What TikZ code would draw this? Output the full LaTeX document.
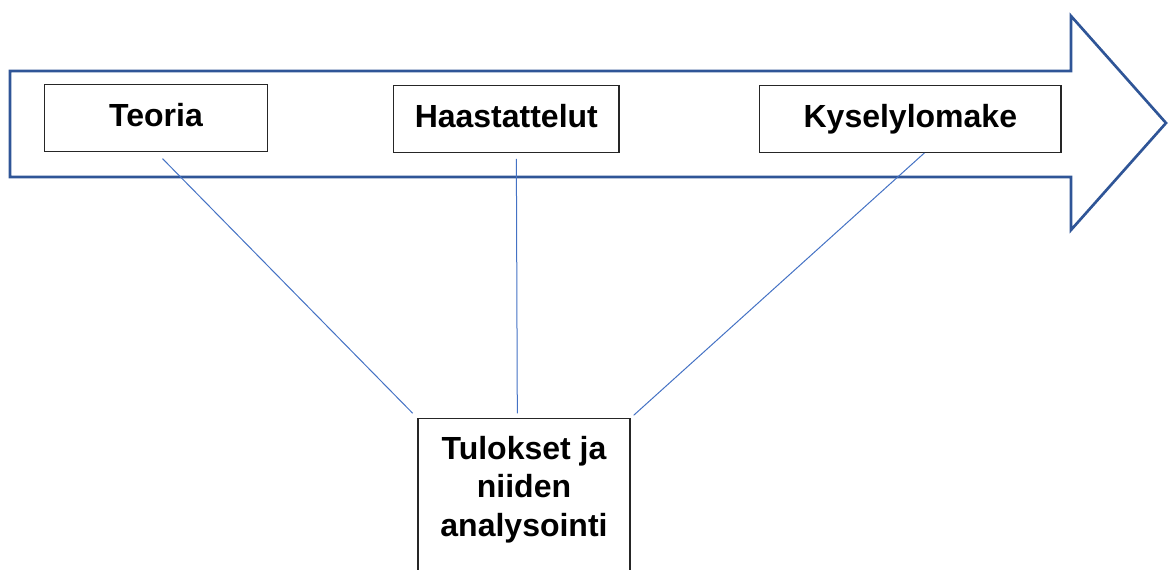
\documentclass[tikz,border=0pt]{standalone}
\usepackage{fontspec}
\setmainfont{Liberation Sans}
\usetikzlibrary{calc}
\definecolor{arrowc}{HTML}{2F5597}
\definecolor{linkc}{HTML}{4472C4}
\definecolor{boxc}{HTML}{262626}
\tikzset{
  flow/.style={draw=arrowc, line width=2pt, fill=white},
  stage/.style={draw=boxc, fill=white, line width=1pt, inner sep=0pt, align=center,
                font=\fontsize{24pt}{29pt}\selectfont\bfseries,
                text height=17pt, text depth=4.5pt, anchor=north west},
  result/.style={draw=boxc, fill=white, line width=1pt, inner xsep=0pt, inner ysep=13pt,
                 align=center, font=\fontsize{24pt}{29pt}\selectfont\bfseries,
                 text depth=80pt, anchor=north},
  link/.style={draw=linkc, line width=0.75pt},
}
\begin{document}
\begin{tikzpicture}[x=0.75pt, y=-0.75pt]
\useasboundingbox (0,0) rectangle (1168,570);
\clip (0,0) rectangle (1168,570);

% the big arrow
\draw[flow] (10,71) -- (1071,71) -- (1071,16) -- (1166,123) -- (1071,230) -- (1071,177) -- (10,177) -- cycle;

% the three stages
\node[stage, minimum width=167pt, minimum height=50pt] (teoria) at (44,84) {Teoria};
\node[stage, minimum width=169pt, minimum height=50pt] (haast) at (393,85) {Haastattelut};
\node[stage, minimum width=226pt, minimum height=50pt] (kysely) at (759,85) {Kyselylomake};

% the result
\node[result, minimum width=159pt] (tulos) at (524,418) {Tulokset ja\\niiden\\analysointi};

% links
\coordinate (hs) at ([xshift=7.5pt]haast.south);
\coordinate (ks) at ([xshift=10.5pt]kysely.south);
\coordinate (tn) at ([xshift=-5pt]tulos.north);
\draw[link, shorten <=7pt, shorten >=5pt] (teoria.south) -- (tulos.north west);
\draw[link, shorten <=4.5pt, shorten >=3.5pt] (hs) -- (tn);
\draw[link, shorten >=3pt] (ks) -- (tulos.north east);
\end{tikzpicture}
\end{document}
